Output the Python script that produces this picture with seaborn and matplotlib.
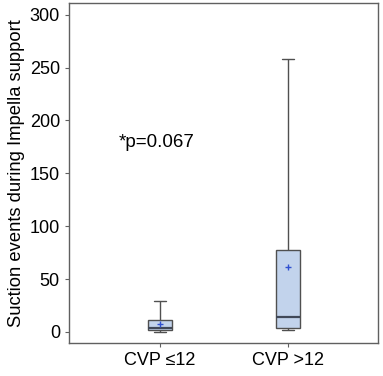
import pandas as pd
import matplotlib.pyplot as plt
import seaborn as sns

# values (chosen so quartiles / mean match the boxes)
groups = ['CVP ≤12', 'CVP >12']
cvp_low = [0, 1, 2, 3, 4, 6, 11, 12, 29]
cvp_high = [2, 3, 4, 8, 14, 40, 77, 150, 258]
y_ticks = [0, 50, 100, 150, 200, 250, 300]

df = pd.DataFrame({
    'group': [groups[0]] * len(cvp_low) + [groups[1]] * len(cvp_high),
    'events': cvp_low + cvp_high,
})

sns.set_style('white')
plt.rcParams['font.family'] = ['Liberation Sans', 'DejaVu Sans']
plt.rcParams['text.color'] = 'black'
plt.rcParams['axes.labelcolor'] = 'black'

fig = plt.figure(figsize=(3.83, 3.76), dpi=100)
ax = fig.add_axes([0.180, 0.088, 0.807, 0.904])

sns.boxplot(data=df, x='group', y='events', order=groups, ax=ax,
            width=0.19, whis=(0, 100), color='#c2d3ec', saturation=1,
            linecolor='#505050', linewidth=1.0, showmeans=True,
            meanprops=dict(marker='+', markeredgecolor='#3050d0', markersize=5),
            medianprops=dict(color='#404858', linewidth=1.6))

ax.text(-0.03, 179, '*p=0.067', ha='center', va='center', fontsize=13.5)

ax.set_xlim(-0.711, 1.703)
ax.set_ylim(-10.4, 311)
ax.set_yticks(y_ticks)
ax.set_xlabel('')
ax.set_ylabel('Suction events during Impella support', fontsize=13.2, labelpad=3)
ax.tick_params(axis='both', labelsize=13, length=3, color='#606060',
               labelcolor='black', left=True, bottom=True)
for s in ax.spines.values():
    s.set_color('#606060')
    s.set_linewidth(1.0)

fig.savefig('out.png', dpi=100)
